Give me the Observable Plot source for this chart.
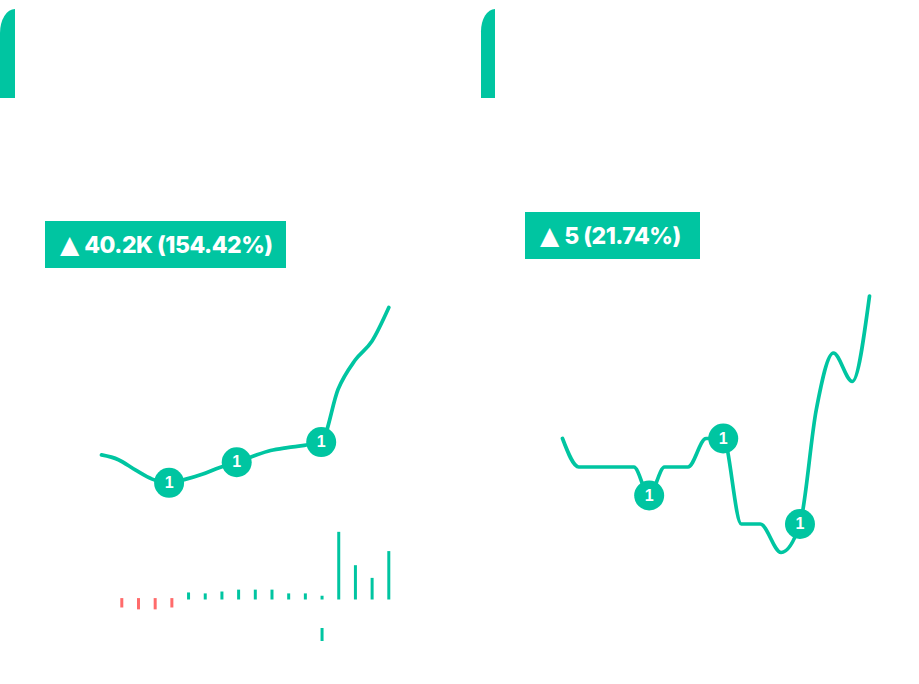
<!DOCTYPE html>
<html>
<head>
<meta charset="utf-8">
<script src="https://cdn.jsdelivr.net/npm/d3@7"></script>
<script src="https://cdn.jsdelivr.net/npm/@observablehq/plot@0.6"></script>
<style>
  html, body { margin: 0; padding: 0; background: #ffffff; }
  #root { position: relative; width: 919px; height: 684px; overflow: hidden; }
  #root svg { position: absolute; left: 0; top: 0; }
  .accent { position: absolute; top: 9px; height: 89px; background: #00c5a1; border-top-left-radius: 15px 24px; }
  .badge { position: absolute; height: 47px; background: #00c5a1; color: #ffffff;
           font-family: Inter, "Liberation Sans", sans-serif; font-weight: 800; font-size: 23px;
           line-height: 47px; box-sizing: border-box; padding-left: 15px; white-space: nowrap; letter-spacing: -0.5px; }
  .badge .tri { font-family: "DejaVu Sans", sans-serif; font-size: 25px; margin-right: 5px; letter-spacing: 0; }
</style>
</head>
<body>
<div id="root"></div>
<script>
// ---------- data ----------
const green = "#00c5a1";
const red = "#ff6b6b";

// Left panel: cumulative value (thousands) per day
const leftDays   = [0, 1, 2, 3, 4, 5, 6, 7, 8, 9, 10, 11, 12, 13, 14, 15, 16, 17];
const leftValues = [26.0, 24.7, 21.9, 19.4, 18.4, 19.4, 20.8, 22.6, 24.0, 25.7, 27.2, 28.0, 28.6, 29.5, 43.9, 51.8, 57.0, 66.2];
const leftEventDays = [4, 8, 13];
const leftEventLabels = ["1", "1", "1"];
const leftBadge = "40.2K (154.42%)";

// Left panel: daily change bars (thousands)
const barDays   = [1, 2, 3, 4, 5, 6, 7, 8, 9, 10, 11, 12, 13, 14, 15, 16, 17];
const barValues = [-1.7, -2.1, -2.1, -1.7, 1.5, 1.3, 1.7, 2.1, 2.1, 2.1, 1.3, 1.3, 0.8, 14.4, 7.3, 4.6, 10.3];
const markerDay = 13;

// Right panel: count per day
const rightDays   = [0, 0.9, 2, 3, 3.95, 4.8, 5.65, 6.95, 7.95, 8.9, 9.9, 10.95, 12.1, 13.15, 14.05, 15, 16.05, 17];
const rightValues = [23, 22, 22, 22, 22, 21, 22, 22, 23, 23, 20, 20, 19, 20, 24, 26, 25, 28];
const rightEventIdx = [5, 9, 13];
const rightEventLabels = ["1", "1", "1"];
const rightBadge = "5 (21.74%)";

// ---------- build ----------
const root = document.getElementById("root");
const W = 919, H = 684;
const base = { width: W, height: H, style: { background: "transparent", overflow: "visible" } };

function addAccent(left, width) {
  const d = document.createElement("div");
  d.className = "accent";
  d.style.left = left + "px";
  d.style.width = width + "px";
  root.appendChild(d);
}
function addBadge(left, top, width, text) {
  const d = document.createElement("div");
  d.className = "badge";
  d.style.left = left + "px";
  d.style.top = top + "px";
  d.style.width = width + "px";
  const t = document.createElement("span");
  t.className = "tri";
  t.textContent = "▲";
  d.appendChild(t);
  d.appendChild(document.createTextNode(text));
  root.appendChild(d);
}

addAccent(0, 15);
addAccent(481, 14);
addBadge(45, 221, 241, leftBadge);
addBadge(525, 212, 175, rightBadge);

const leftData = leftDays.map((d, i) => ({ d, v: leftValues[i] }));
const leftEvents = leftEventDays.map((d, i) => ({ d, v: leftValues[leftDays.indexOf(d)], label: leftEventLabels[i] }));

root.appendChild(Plot.plot({
  ...base,
  x: { domain: [0, 17], range: [101, 388.3], axis: null },
  y: { domain: [18.4, 66.2], range: [482.3, 307], axis: null },
  marks: [
    Plot.line(leftData, { x: "d", y: "v", stroke: green, strokeWidth: 3.7, curve: "monotone-x" }),
    Plot.dot(leftEvents, { x: "d", y: "v", r: 15, fill: green }),
    Plot.text(leftEvents, { x: "d", y: "v", text: "label", fill: "white", fontSize: 16, fontWeight: "bold", fontFamily: "Liberation Sans, Arial, sans-serif" })
  ]
}));

const bars = barDays.map((d, i) => ({ d, v: barValues[i] }));
root.appendChild(Plot.plot({
  ...base,
  x: { domain: [1, 17], range: [121.3, 388.3], axis: null },
  y: { domain: [-9, 14.5], range: [641.8, 531.35], axis: null },
  marks: [
    Plot.ruleX(bars.filter(b => b.v < 0), { x: "d", y1: 0.3, y2: "v", stroke: red, strokeWidth: 3 }),
    Plot.ruleX(bars.filter(b => b.v >= 0), { x: "d", y1: 0, y2: "v", stroke: green, strokeWidth: 3 }),
    Plot.ruleX([markerDay], { x: d => d, y1: -6.06, y2: -8.83, stroke: green, strokeWidth: 3 })
  ]
}));

const rightData = rightDays.map((d, i) => ({ d, v: rightValues[i] }));
const rightEvents = rightEventIdx.map((k, i) => ({ d: rightDays[k], v: rightValues[k], label: rightEventLabels[i] }));
root.appendChild(Plot.plot({
  ...base,
  x: { domain: [0, 17], range: [562, 869], axis: null },
  y: { domain: [19, 28], range: [552, 295.5], axis: null },
  marks: [
    Plot.line(rightData, { x: "d", y: "v", stroke: green, strokeWidth: 3.7, curve: "monotone-x" }),
    Plot.dot(rightEvents, { x: "d", y: "v", r: 15, fill: green }),
    Plot.text(rightEvents, { x: "d", y: "v", text: "label", fill: "white", fontSize: 16, fontWeight: "bold", fontFamily: "Liberation Sans, Arial, sans-serif" })
  ]
}));
</script>
</body>
</html>
